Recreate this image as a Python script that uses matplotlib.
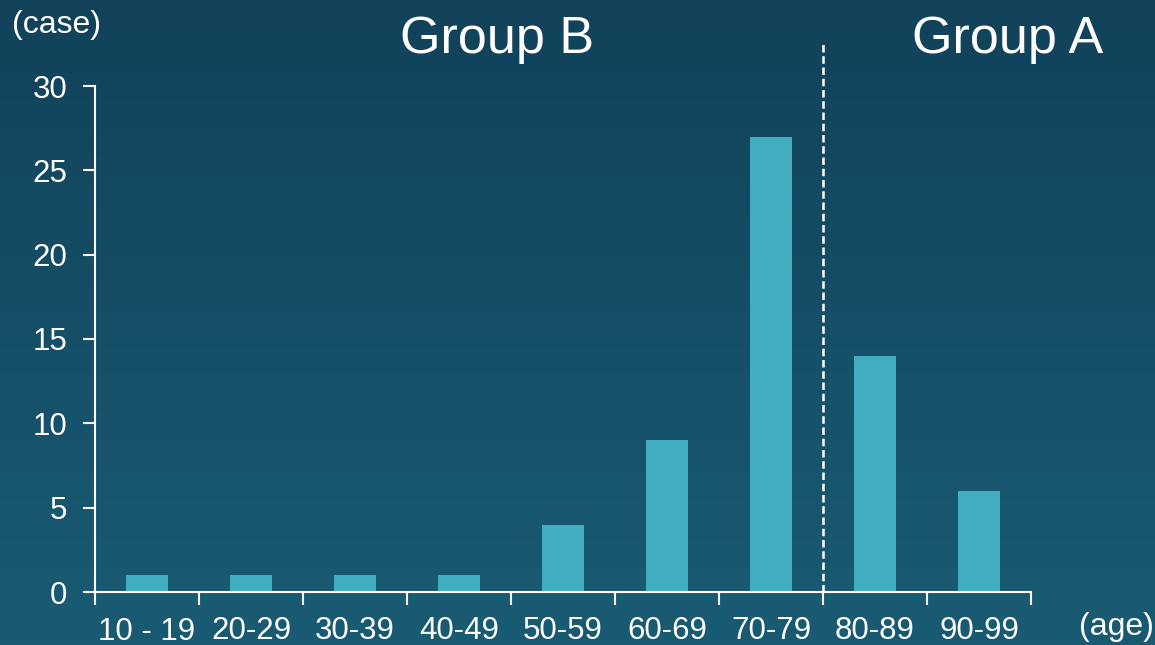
import numpy as np
import matplotlib
matplotlib.use("Agg")
import matplotlib.pyplot as plt
from matplotlib.colors import LinearSegmentedColormap

# Age groups and case counts
age_groups = ["10 - 19", "20-29", "30-39", "40-49", "50-59", "60-69", "70-79", "80-89", "90-99"]
cases = [1, 1, 1, 1, 4, 9, 27, 14, 6]
y_ticks = [0, 5, 10, 15, 20, 25, 30]
group_labels = ["Group B", "Group A"]

plt.rcParams["font.family"] = ["Liberation Sans", "DejaVu Sans"]

W, H, DPI = 1155, 645, 100
fig = plt.figure(figsize=(W / DPI, H / DPI), dpi=DPI)

# Background gradient (dark teal, lighter toward the bottom)
bg = fig.add_axes([0, 0, 1, 1], zorder=0)
cmap = LinearSegmentedColormap.from_list("bg", ["#11425a", "#1a5b74"])
grad = np.linspace(0, 1, 256).reshape(-1, 1)
bg.imshow(grad, aspect="auto", cmap=cmap, extent=[0, 1, 0, 1], origin="upper")
bg.set_axis_off()

ax = fig.add_axes([95 / W, 53 / H, 936 / W, 506 / H], zorder=1)
ax.patch.set_alpha(0)

x = np.arange(len(age_groups))
ax.bar(x, cases, width=0.4, color="#40aebf", zorder=2)

ax.set_xlim(-0.5, len(age_groups) - 0.5)
ax.set_ylim(0, 30)
ax.set_yticks(y_ticks)
ax.set_xticks(np.arange(len(age_groups) + 1) - 0.5)
ax.set_xticklabels([])
ax.set_xticks(x, minor=True)
ax.set_xticklabels(age_groups, minor=True)
ax.tick_params(axis="x", which="minor", length=0, pad=17, labelsize=22.5, colors="white")
ax.tick_params(axis="x", which="major", length=9, width=1.5, color="white")
ax.tick_params(axis="y", length=9, width=1.5, color="white", labelcolor="white",
               labelsize=22.5, pad=11)

# Shift the first label slightly lower
first = ax.xaxis.get_minor_ticks()[0]
first.label1.set_y(-0.002)

for side in ("top", "right"):
    ax.spines[side].set_visible(False)
for side in ("left", "bottom"):
    ax.spines[side].set_color("white")
    ax.spines[side].set_linewidth(1.5)

# Divider between groups
ax.plot([6.5, 6.5], [0, 32.55], color="white", lw=1.8, ls=(0, (3, 1.5)),
        clip_on=False, zorder=3)

fig.text(497 / W, 1 - 53 / H, group_labels[0], ha="center", va="baseline",
         fontsize=37.5, color="white")
fig.text(1008 / W, 1 - 53 / H, group_labels[1], ha="center", va="baseline",
         fontsize=37.5, color="white")

fig.text(12 / W, 1 - 25 / H, "(case)", ha="left", va="center", fontsize=23, color="white")
fig.text(1079 / W, 1 - 627 / H, "(age)", ha="left", va="center", fontsize=23, color="white")

fig.savefig("out.png", dpi=DPI)
